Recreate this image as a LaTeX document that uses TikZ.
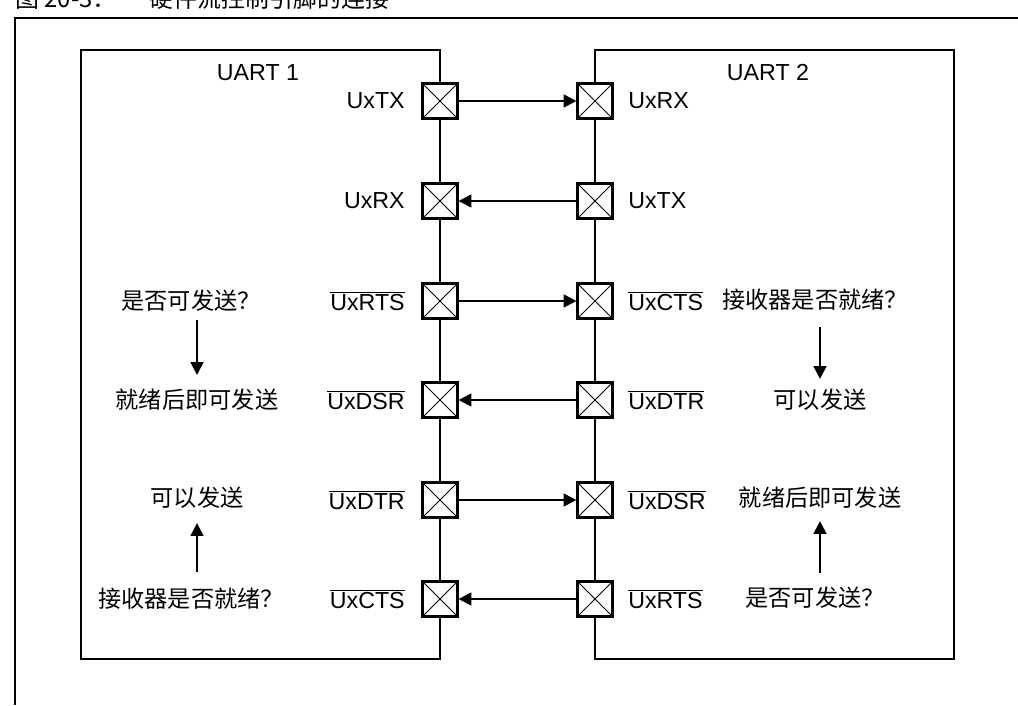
\documentclass[tikz,border=0pt]{standalone}
\usepackage{fontspec}
\setmainfont{Liberation Sans}
\newfontfamily\cjk{Noto Sans CJK SC}
\usetikzlibrary{arrows.meta}
\newcommand{\ovl}[1]{$\overline{\hbox{#1}}$}

\begin{document}
\begin{tikzpicture}[x=0.025cm, y=-0.025cm,
  uart/.style={draw, line width=1.6pt},
  pin/.style={rectangle, draw, fill=white, line width=1.5pt, minimum size=0.875cm,
              inner sep=0pt,
              path picture={\draw[line width=0.6pt]
                (path picture bounding box.south west) -- (path picture bounding box.north east)
                (path picture bounding box.north west) -- (path picture bounding box.south east);}},
  lpin/.style={anchor=east, inner sep=0pt, font=\fontsize{16.5}{19}\selectfont},
  rpin/.style={anchor=west, inner sep=0pt, font=\fontsize{16.5}{19}\selectfont},
  note/.style={inner sep=0pt, font=\cjk\fontsize{16.5}{20}\selectfont},
  sig/.style={line width=1.4pt, -{Triangle[length=0.32cm, width=0.32cm]}},
  flow/.style={line width=1.4pt, -{Triangle[length=0.32cm, width=0.32cm]}},
]
\useasboundingbox (0,0) rectangle (1018,705);
% outer frame and (cut off) caption
\draw[line width=2pt] (15,705) -- (15,18) -- (1018,18);
\node[anchor=base west, inner sep=0pt, font=\cjk\fontsize{17}{20}\selectfont] (title) at (15,7.5)
  {图 20-3：\hspace{1.4em}硬件流控制引脚的连接};

% the two UARTs
\draw[uart] (440,50) rectangle (81,659);
\draw[uart] (595,50) rectangle (954,659);
\node[font=\fontsize{16.5}{19}\selectfont] (u1) at (258,73) {UART 1};
\node[font=\fontsize{16.5}{19}\selectfont] (u2) at (768,73) {UART 2};

% pins of UART 1
\node[pin] (tx1)  at (440,101) {};
\node[pin] (rx1)  at (440,201) {};
\node[pin] (rts1) at (440,301) {};
\node[pin] (dsr1) at (440,400) {};
\node[pin] (dtr1) at (440,500) {};
\node[pin] (cts1) at (440,599) {};
\node[lpin] at (405,101) {UxTX};
\node[lpin] at (405,201) {UxRX};
\node[lpin] at (405,301) {\ovl{UxRTS}};
\node[lpin] at (405,400) {\ovl{UxDSR}};
\node[lpin] at (405,500) {\ovl{UxDTR}};
\node[lpin] at (405,599) {\ovl{UxCTS}};

% pins of UART 2
\node[pin] (rx2)  at (595,101) {};
\node[pin] (tx2)  at (595,201) {};
\node[pin] (cts2) at (595,301) {};
\node[pin] (dtr2) at (595,400) {};
\node[pin] (dsr2) at (595,500) {};
\node[pin] (rts2) at (595,599) {};
\node[rpin] at (628,101) {UxRX};
\node[rpin] at (628,201) {UxTX};
\node[rpin] at (628,301) {\ovl{UxCTS}};
\node[rpin] at (628,400) {\ovl{UxDTR}};
\node[rpin] at (628,500) {\ovl{UxDSR}};
\node[rpin] at (628,599) {\ovl{UxRTS}};

% signals between the UARTs
\draw[sig] (tx1.east) -- (rx2.west);
\draw[sig] (tx2.west) -- (rx1.east);
\draw[sig] (rts1.east) -- (cts2.west);
\draw[sig] (dtr2.west) -- (dsr1.east);
\draw[sig] (dtr1.east) -- (dsr2.west);
\draw[sig] (rts2.west) -- (cts1.east);

% handshake notes, UART 1
\node[note] (ask1)   at (191,301) {是否可发送？};
\node[note] (go1)    at (197,400) {就绪后即可发送};
\node[note] (ok1)    at (197,498) {可以发送};
\node[note] (ready1) at (191,599) {接收器是否就绪？};
\draw[flow, shorten <=0.2cm, shorten >=0.35cm] (ask1.south -| go1.north) -- (go1.north);
\draw[flow, shorten <=0.4cm, shorten >=0.35cm] (ready1.north -| ok1.south) -- (ok1.south);

% handshake notes, UART 2
\node[note] (ready2) at (815,300) {接收器是否就绪？};
\node[note] (ok2)    at (820,400) {可以发送};
\node[note] (go2)    at (820,498) {就绪后即可发送};
\node[note] (ask2)   at (815,598) {是否可发送？};
\draw[flow, shorten <=0.4cm, shorten >=0.25cm] (ready2.south -| ok2.north) -- (ok2.north);
\draw[flow, shorten <=0.35cm, shorten >=0.3cm] (ask2.north -| go2.south) -- (go2.south);
\end{tikzpicture}
\end{document}
